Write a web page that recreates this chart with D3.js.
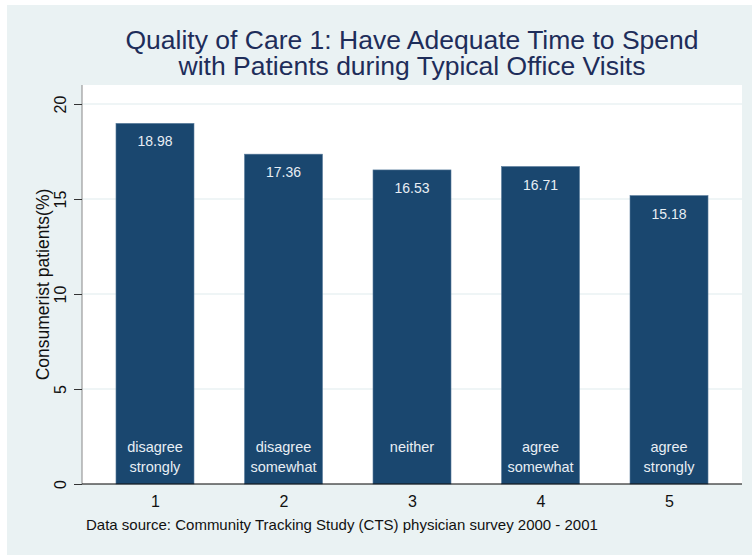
<!DOCTYPE html>
<html><head><meta charset="utf-8">
<script src="https://cdn.jsdelivr.net/npm/d3@7"></script>
<style>body{margin:0;background:#fff}svg{display:block;font-family:"Liberation Sans",Arial,sans-serif}</style>
</head><body>
<script>
const categories = [1, 2, 3, 4, 5];
const values = [18.98, 17.36, 16.53, 16.71, 15.18];
const barLabels = [["disagree","strongly"],["disagree","somewhat"],["neither"],["agree","somewhat"],["agree","strongly"]];
const yTicks = [0, 5, 10, 15, 20];
const titleLines = ["Quality of Care 1: Have Adequate Time to Spend","with Patients during Typical Office Visits"];
const yTitle = "Consumerist patients(%)";
const caption = "Data source: Community Tracking Study (CTS) physician survey 2000 - 2001";

const W = 752, H = 555;
const svg = d3.select("body").append("svg").attr("width", W).attr("height", H);
svg.append("rect").attr("x", 7).attr("y", 5).attr("width", W - 7).attr("height", H - 5).attr("fill", "#eaf2f3");

const L = 82, R = 742, T = 85, B = 484;
svg.append("rect").attr("x", L).attr("y", T).attr("width", R - L).attr("height", B - T).attr("fill", "#fff");

const x = d3.scaleLinear().domain([0.432, 5.568]).range([L, R]);
const y = d3.scaleLinear().domain([0, 20]).range([B, 104]);
const bw = x(1.607) - x(1);

// gridlines
svg.append("g").selectAll("line").data(yTicks.filter(d => d > 0)).join("line")
  .attr("x1", L).attr("x2", R).attr("y1", d => y(d)).attr("y2", d => y(d))
  .attr("stroke", "#eaf2f3").attr("stroke-width", 1.5);

// bars
const g = svg.append("g");
g.selectAll("rect").data(categories).join("rect")
  .attr("x", (d) => x(d) - bw / 2).attr("width", bw)
  .attr("y", (d, i) => y(values[i])).attr("height", (d, i) => y(0) - y(values[i]))
  .attr("fill", "#1a476f").attr("stroke", "#5a7c9c").attr("stroke-width", 0.6);

g.selectAll("text.v").data(categories).join("text").attr("class", "v")
  .attr("x", d => x(d)).attr("y", (d, i) => y(values[i]) + 23)
  .attr("text-anchor", "middle").attr("font-size", 14).attr("fill", "#e8eef4")
  .text((d, i) => values[i].toFixed(2));

categories.forEach((c, i) => {
  barLabels[i].forEach((t, j) => {
    g.append("text").attr("x", x(c)).attr("y", 452 + j * 20)
      .attr("text-anchor", "middle").attr("font-size", 14.5).attr("fill", "#e8eef4").text(t);
  });
});

// y axis
const ya = svg.append("g").attr("transform", `translate(${L},0)`)
  .call(d3.axisLeft(y).tickValues(yTicks).tickSize(8).tickPadding(6).tickFormat(d3.format("d")));
ya.select(".domain").attr("stroke", "#888").attr("d", `M0,${T}V${B}`);
ya.selectAll(".tick line").attr("stroke", "#333");
ya.selectAll(".tick text").attr("font-size", 16).attr("fill", "#111").attr("font-family", "Liberation Sans, Arial, sans-serif")
  .attr("text-anchor", "middle")
  .each(function(d){ d3.select(this).attr("transform", `translate(-22,0) rotate(-90)`).attr("x",0).attr("y",0).attr("dy","0.35em"); });

// x axis
const xa = svg.append("g").attr("transform", `translate(0,${B})`)
  .call(d3.axisBottom(x).tickValues(categories).tickSize(0).tickPadding(12).tickFormat(d3.format("d")));
xa.select(".domain").attr("stroke", "#000").attr("d", `M${L},0H${R}`);
xa.selectAll(".tick text").attr("font-size", 16).attr("fill", "#111").attr("font-family", "Liberation Sans, Arial, sans-serif");

// titles
svg.append("text").attr("transform", `translate(43,${(T + B) / 2}) rotate(-90)`)
  .attr("text-anchor", "middle").attr("font-size", 17.5).attr("fill", "#111").attr("dy", "0.35em").text(yTitle);

const tt = svg.append("text").attr("text-anchor", "middle").attr("font-size", 26.5).attr("fill", "#1e2d5a");
titleLines.forEach((t, i) => {
  tt.append("tspan").attr("x", 412).attr("y", 49 + i * 26).text(t);
});

svg.append("text").attr("x", 86).attr("y", 530).attr("font-size", 15).attr("fill", "#111").text(caption);
</script>
</body></html>
